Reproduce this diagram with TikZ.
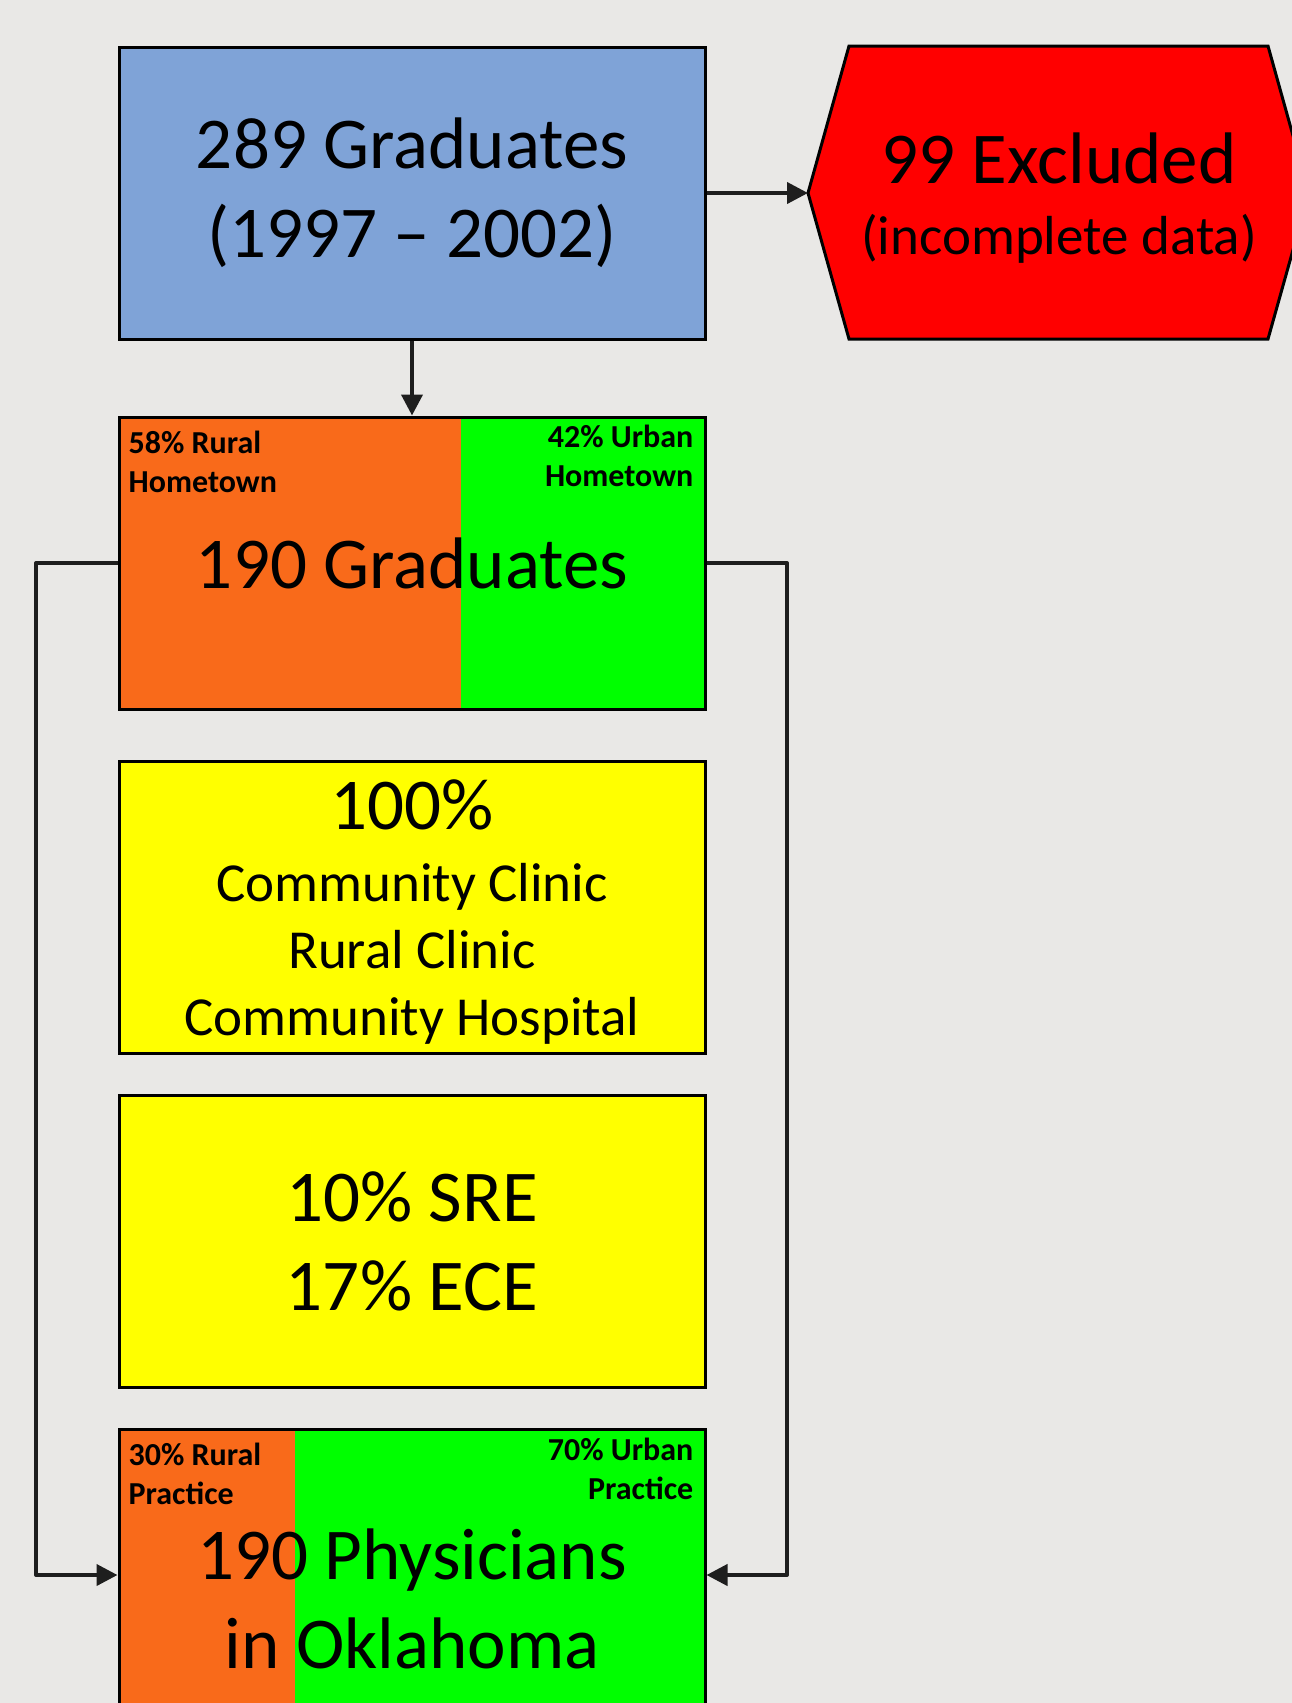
\documentclass[tikz,border=0pt]{standalone}
\usepackage{fontspec}
\setmainfont{Carlito}
\usepackage{tikz}
\usetikzlibrary{arrows.meta,positioning,calc}
\definecolor{bgc}{HTML}{E9E8E6}
\definecolor{cohort}{HTML}{7FA3D7}
\definecolor{excl}{HTML}{FF0000}
\definecolor{rural}{HTML}{F96A1A}
\definecolor{urban}{HTML}{00FF00}
\definecolor{track}{HTML}{FFFF00}
\definecolor{ink}{HTML}{1E1E1E}

\begin{document}
\begin{tikzpicture}[x=1pt,y=-1pt,
  box/.style={draw=black,line width=3pt,minimum width=586pt,minimum height=292pt,inner sep=0pt,align=center},
  bigtxt/.style={font=\fontsize{73}{89}\selectfont,align=center},
  tag/.style={font=\fontsize{32}{39}\selectfont\bfseries,inner sep=0pt},
  link/.style={line width=4pt,draw=ink,line join=round,-{Triangle[length=21pt,width=21pt]}}]
\useasboundingbox (0,0) rectangle (1292,1703);
\fill[bgc] (0,0) rectangle (1292,1703);
\clip (0,0) rectangle (1292,1703);

% cohort and exclusions
\node[box,fill=cohort,bigtxt] (start) at (412,193) {289 Graduates\\(1997 -- 2002)};
\coordinate (exclTip) at (808,193);
\draw[line width=3pt,draw=black,fill=excl] (exclTip) -- (849,46) -- (1268,46) -- (1309,193) -- (1268,339) -- (849,339) -- cycle;
\node[bigtxt,font=\fontsize{73}{71}\selectfont] (exclText) at (1059,198) {99 Excluded\\{\fontsize{55}{55}\selectfont(incomplete data)}};

% hometown split
\node[box,fill=urban,bigtxt,path picture={\fill[rural] (path picture bounding box.north west) rectangle ([xshift=342pt]path picture bounding box.south west);}] (grad) at (412,563) {190 Graduates};
\node[tag,anchor=north west,align=left] (ruralHome) at ([xshift=11pt,yshift=-15pt]grad.north west) {58\% Rural\\Hometown};
\node[tag,anchor=north east,align=right] (urbanHome) at ([xshift=-13pt,yshift=-9pt]grad.north east) {42\% Urban\\Hometown};

% training sites
\node[box,fill=track,font=\fontsize{55}{67}\selectfont] (sites) at (412,907) {{\fontsize{73}{73}\selectfont\rule{0pt}{60pt}100\%}\\[5pt]Community Clinic\\Rural Clinic\\Community Hospital};
\node[box,fill=track,bigtxt] (elect) at (412,1241) {10\% SRE\\17\% ECE};

% practice split
\node[box,fill=urban,path picture={\fill[rural] (path picture bounding box.north west) rectangle ([xshift=176pt]path picture bounding box.south west);}] (phys) at (412,1575) {};
\node[bigtxt] (physText) at ([yshift=-24pt]phys.center) {190 Physicians\\in Oklahoma};
\node[tag,anchor=north west,align=left] (ruralPrac) at ([xshift=11pt,yshift=-15pt]phys.north west) {30\% Rural\\Practice};
\node[tag,anchor=north east,align=right] (urbanPrac) at ([xshift=-13pt,yshift=-10pt]phys.north east) {70\% Urban\\Practice};

% connectors
\coordinate (leftBend) at (36,1575);
\coordinate (rightBend) at (787,1575);
\draw[link] (start.south) -- (grad.north);
\draw[link] (start.east) -- (exclTip);
\draw[link] (grad.west) -| (leftBend) -- (phys.west);
\draw[link] (grad.east) -| (rightBend) -- (phys.east);
\end{tikzpicture}
\end{document}
